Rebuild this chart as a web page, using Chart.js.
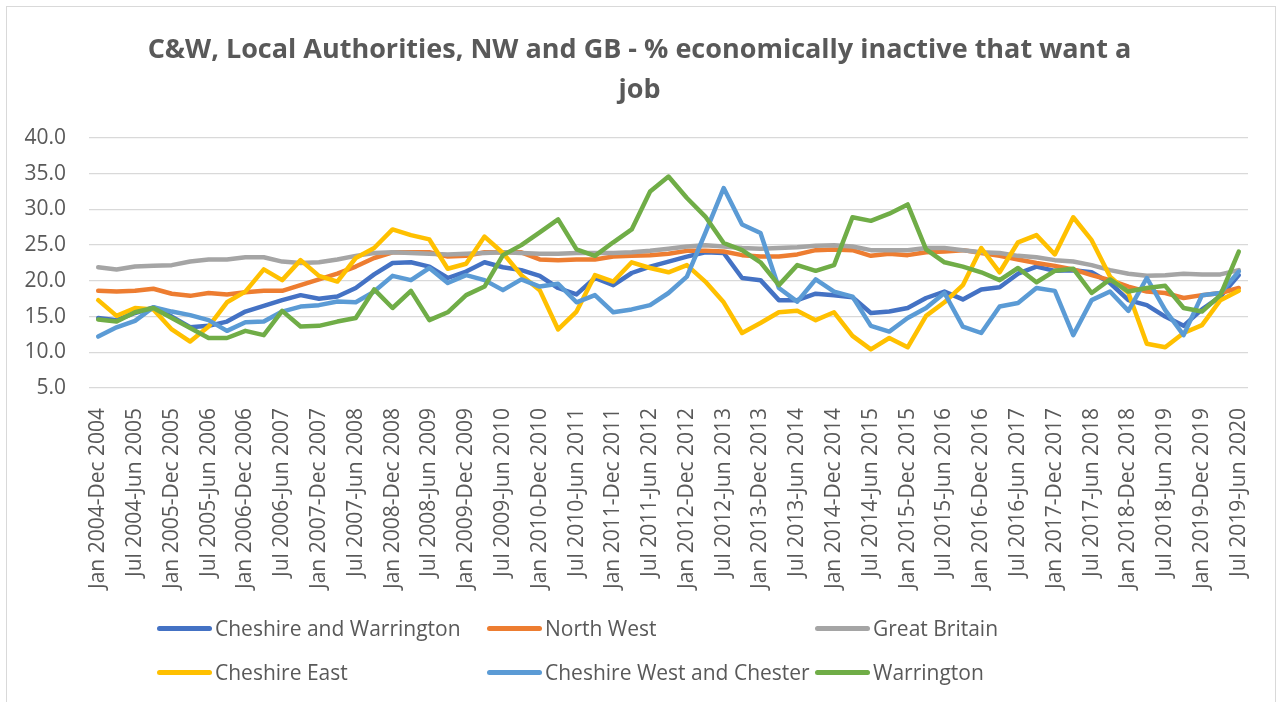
<!DOCTYPE html>
<html>
<head>
<meta charset="utf-8">
<script src="https://cdn.jsdelivr.net/npm/chart.js"></script>
<style>
  html, body { margin: 0; padding: 0; background: #ffffff; overflow: hidden; }
  #wrap { position: relative; width: 1279px; height: 702px; }
  #frame { position: absolute; left: 6px; top: 6px; width: 1270px; height: 720px; border: 1px solid #d9d9d9; box-sizing: border-box; }
  #title { position: absolute; left: 0; top: 28px; width: 1279px; text-align: center; font-family: "Open Sans", sans-serif; font-weight: bold; font-size: 27px; line-height: 40px; color: #595959; }
  canvas { position: absolute; left: 0; top: 0; }
  .leg { position: absolute; height: 30px; display: flex; align-items: center; font-family: "Open Sans", sans-serif; font-size: 21px; color: #595959; white-space: nowrap; }
  .leg .sw { display: inline-block; width: 55px; height: 5px; border-radius: 3px; margin-right: 3px; }
</style>
</head>
<body>
<div id="wrap">
  <div id="frame"></div>
  <canvas id="c" width="1279" height="702"></canvas>
  <div id="title">C&amp;W, Local Authorities, NW and GB - % economically inactive that want a<br>job</div>
  <div id="legend"></div>
</div>
<script>
const categories = [
  "Jan 2004-Dec 2004","Apr 2004-Mar 2005","Jul 2004-Jun 2005","Oct 2004-Sep 2005",
  "Jan 2005-Dec 2005","Apr 2005-Mar 2006","Jul 2005-Jun 2006","Oct 2005-Sep 2006",
  "Jan 2006-Dec 2006","Apr 2006-Mar 2007","Jul 2006-Jun 2007","Oct 2006-Sep 2007",
  "Jan 2007-Dec 2007","Apr 2007-Mar 2008","Jul 2007-Jun 2008","Oct 2007-Sep 2008",
  "Jan 2008-Dec 2008","Apr 2008-Mar 2009","Jul 2008-Jun 2009","Oct 2008-Sep 2009",
  "Jan 2009-Dec 2009","Apr 2009-Mar 2010","Jul 2009-Jun 2010","Oct 2009-Sep 2010",
  "Jan 2010-Dec 2010","Apr 2010-Mar 2011","Jul 2010-Jun 2011","Oct 2010-Sep 2011",
  "Jan 2011-Dec 2011","Apr 2011-Mar 2012","Jul 2011-Jun 2012","Oct 2011-Sep 2012",
  "Jan 2012-Dec 2012","Apr 2012-Mar 2013","Jul 2012-Jun 2013","Oct 2012-Sep 2013",
  "Jan 2013-Dec 2013","Apr 2013-Mar 2014","Jul 2013-Jun 2014","Oct 2013-Sep 2014",
  "Jan 2014-Dec 2014","Apr 2014-Mar 2015","Jul 2014-Jun 2015","Oct 2014-Sep 2015",
  "Jan 2015-Dec 2015","Apr 2015-Mar 2016","Jul 2015-Jun 2016","Oct 2015-Sep 2016",
  "Jan 2016-Dec 2016","Apr 2016-Mar 2017","Jul 2016-Jun 2017","Oct 2016-Sep 2017",
  "Jan 2017-Dec 2017","Apr 2017-Mar 2018","Jul 2017-Jun 2018","Oct 2017-Sep 2018",
  "Jan 2018-Dec 2018","Apr 2018-Mar 2019","Jul 2018-Jun 2019","Oct 2018-Sep 2019",
  "Jan 2019-Dec 2019","Apr 2019-Mar 2020","Jul 2019-Jun 2020"
];

const cheshireWarrington = [
  14.8,14.5,15.5,16.3,15.0,13.5,13.7,14.3,15.7,16.5,17.3,18.0,17.5,17.8,19.0,20.9,
  22.5,22.6,22.0,20.4,21.3,22.6,21.9,21.5,20.7,19.0,18.1,20.4,19.4,21.1,22.0,22.7,
  23.4,24.0,23.9,20.4,20.1,17.3,17.3,18.2,18.0,17.7,15.5,15.7,16.2,17.6,18.5,17.4,
  18.8,19.1,21.0,22.0,21.4,21.5,21.2,19.7,17.3,16.6,15.0,13.7,16.0,17.8,20.8
];
const northWest = [
  18.6,18.5,18.6,18.9,18.2,17.9,18.3,18.1,18.4,18.6,18.6,19.4,20.2,21.0,22.0,23.2,
  24.0,24.0,24.0,23.4,23.5,24.0,24.0,24.0,23.0,22.9,23.0,23.0,23.4,23.5,23.6,23.8,
  24.2,24.2,24.1,23.6,23.4,23.4,23.7,24.3,24.4,24.3,23.5,23.8,23.6,24.0,24.1,24.3,
  23.9,23.5,23.0,22.5,22.1,21.6,20.8,20.1,19.2,18.5,18.3,17.6,18.0,18.3,19.0
];
const greatBritain = [
  21.9,21.6,22.0,22.1,22.2,22.7,23.0,23.0,23.3,23.3,22.7,22.5,22.6,23.0,23.5,23.9,
  24.0,23.9,23.8,23.7,23.8,23.9,24.0,23.9,23.8,23.8,23.9,23.9,23.9,24.0,24.2,24.5,
  24.8,25.0,24.8,24.6,24.5,24.6,24.7,24.9,25.0,24.8,24.3,24.3,24.3,24.6,24.6,24.3,
  24.0,23.9,23.5,23.3,22.9,22.7,22.2,21.5,21.0,20.7,20.8,21.0,20.9,20.9,21.5
];
const cheshireEast = [
  17.3,15.1,16.2,16.0,13.2,11.5,13.6,17.0,18.5,21.6,20.1,22.9,20.7,19.9,23.2,24.6,
  27.2,26.4,25.8,21.7,22.4,26.2,23.9,20.8,18.7,13.2,15.7,20.8,19.9,22.6,21.8,21.2,
  22.2,19.9,17.0,12.7,14.1,15.6,15.8,14.5,15.6,12.3,10.4,12.0,10.7,15.1,17.0,19.4,
  24.6,21.2,25.4,26.4,23.7,28.9,25.7,20.6,18.3,11.2,10.7,12.7,13.8,17.3,18.6
];
const cheshireWestChester = [
  12.2,13.5,14.4,16.3,15.7,15.2,14.5,13.0,14.2,14.3,15.7,16.4,16.6,17.1,17.0,18.5,
  20.7,20.1,21.8,19.7,20.8,20.1,18.7,20.2,19.2,19.6,17.0,18.0,15.6,16.0,16.6,18.3,
  20.6,26.7,33.0,27.9,26.7,19.0,17.1,20.2,18.5,17.8,13.7,12.9,14.8,16.2,18.3,13.6,
  12.7,16.4,16.9,19.0,18.6,12.4,17.3,18.5,15.8,20.4,15.9,12.4,18.0,18.3,21.3
];
const warrington = [
  14.6,14.3,15.6,16.2,14.8,13.4,12.0,12.0,13.0,12.4,15.8,13.6,13.7,14.3,14.8,18.8,
  16.2,18.6,14.5,15.6,18.0,19.2,23.6,25.0,26.8,28.6,24.4,23.5,25.4,27.2,32.5,34.6,
  31.6,29.0,25.3,24.3,22.6,19.4,22.2,21.4,22.2,28.9,28.4,29.4,30.7,24.4,22.6,22.0,
  21.2,20.1,21.8,19.8,21.4,21.7,18.3,20.2,18.5,19.0,19.3,16.2,15.7,18.0,24.1
];
const yTicks = [5, 10, 15, 20, 25, 30, 35, 40];

const seriesNames = ["Cheshire and Warrington","North West","Great Britain","Cheshire East","Cheshire West and Chester","Warrington"];
const seriesData = [cheshireWarrington, northWest, greatBritain, cheshireEast, cheshireWestChester, warrington];
const seriesColors = ["#4472C4","#ED7D31","#A5A5A5","#FFC000","#5B9BD5","#70AD47"];

const datasets = seriesNames.map((name, k) => ({
  label: name,
  data: seriesData[k],
  borderColor: seriesColors[k],
  backgroundColor: seriesColors[k],
  borderWidth: 4.5,
  pointRadius: 0,
  pointHoverRadius: 0,
  tension: 0,
  fill: false,
  borderCapStyle: 'round',
  borderJoinStyle: 'round',
  order: seriesNames.length - k
}));

const textColor = '#595959';
const fontFamily = '"Open Sans", sans-serif';

new Chart(document.getElementById('c'), {
  type: 'line',
  data: { labels: categories, datasets: datasets },
  options: {
    responsive: false,
    animation: false,
    devicePixelRatio: 1,
    layout: { padding: { top: 138, left: 0, right: 31, bottom: 104 } },
    plugins: { legend: { display: false }, title: { display: false }, tooltip: { enabled: false } },
    scales: {
      x: {
        offset: true,
        grid: { display: false },
        border: { display: false },
        ticks: {
          autoSkip: false,
          minRotation: 90,
          maxRotation: 90,
          padding: 12,
          color: textColor,
          font: { family: fontFamily, size: 21 },
          callback: (v, i) => (i % 2 === 0 ? categories[i] : '')
        },
        afterFit: (s) => { s.height = 210; }
      },
      y: {
        min: yTicks[0],
        max: yTicks[yTicks.length - 1],
        afterBuildTicks: (s) => { s.ticks = yTicks.map(v => ({ value: v })); },
        grid: { color: '#d9d9d9', lineWidth: 1.3, drawTicks: false },
        border: { display: false },
        ticks: {
          padding: 23,
          color: textColor,
          font: { family: fontFamily, size: 21 },
          callback: (v) => Number(v).toFixed(1)
        },
        afterFit: (s) => { s.width = 89; }
      }
    }
  }
});

// HTML legend (3 columns x 2 rows)
const legCols = [157, 487, 815];
const legRows = [628, 672];
const legend = document.getElementById('legend');
seriesNames.forEach((name, k) => {
  const d = document.createElement('div');
  d.className = 'leg';
  d.style.left = legCols[k % 3] + 'px';
  d.style.top = (legRows[Math.floor(k / 3)] - 15) + 'px';
  const sw = document.createElement('span');
  sw.className = 'sw';
  sw.style.background = seriesColors[k];
  d.appendChild(sw);
  d.appendChild(document.createTextNode(name));
  legend.appendChild(d);
});
</script>
</body>
</html>
